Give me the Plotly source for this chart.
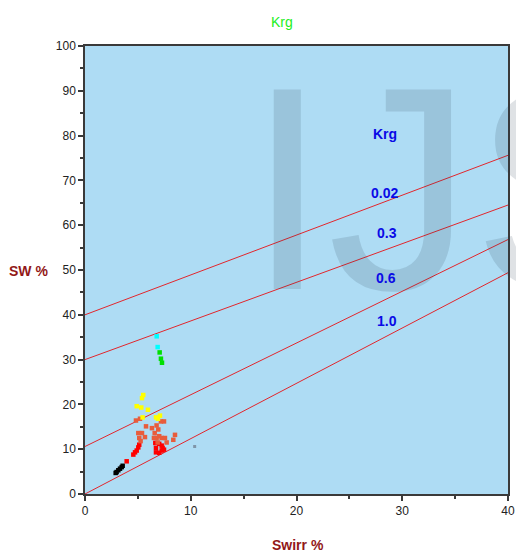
import plotly.graph_objects as go

# Krg iso-lines: Sw at Swirr = 0 and at Swirr = 40
krg_labels = ["0.02", "0.3", "0.6", "1.0"]
krg_sw_at_0 = [40.0, 30.0, 10.6, 0.0]
krg_sw_at_40 = [75.6, 64.5, 56.8, 49.4]
krg_label_x = [28.3, 28.6, 28.5, 28.6]
krg_label_y = [67.3, 58.2, 48.3, 38.7]

# Sample points grouped by colour class
cyan_x = [6.78, 6.87]
cyan_y = [35.2, 32.8]
green_x = [7.06, 7.18, 7.28]
green_y = [31.6, 30.2, 29.3]
yellow_x = [5.51, 5.39, 4.89, 5.32, 5.95, 5.45, 6.71, 7.09, 6.90]
yellow_y = [22.1, 21.4, 19.6, 19.3, 18.8, 17.1, 17.1, 17.5, 16.8]
orange_x = [4.82, 5.20, 5.77, 6.33, 6.77, 7.18, 7.47, 6.93, 5.04, 5.39, 5.67,
            5.13, 5.26, 6.59, 6.77, 6.52, 7.02, 7.25, 7.56, 7.72, 8.35, 8.51, 6.87]
orange_y = [16.4, 16.8, 15.1, 14.7, 15.3, 16.2, 16.2, 14.4, 13.6, 13.6, 12.7,
            12.5, 11.8, 13.6, 12.5, 12.5, 12.9, 12.5, 12.5, 11.5, 12.1, 13.2, 11.5]
red_x = [5.13, 5.04, 4.89, 4.73, 4.57, 3.94, 6.65, 6.71, 7.02, 7.25, 7.34,
         7.25, 7.02, 6.71, 7.47]
red_y = [11.0, 10.4, 9.7, 9.3, 8.8, 7.3, 11.4, 10.3, 11.2, 10.8, 10.3,
         9.7, 9.2, 9.3, 9.9]
black_x = [2.90, 2.99, 3.15, 3.31, 3.47, 3.56]
black_y = [4.7, 4.9, 5.3, 5.65, 6.0, 6.3]
grey_x = [10.37]
grey_y = [10.6]

FONT = "Liberation Sans, Arial, sans-serif"

fig = go.Figure()

for s0, s40 in zip(krg_sw_at_0, krg_sw_at_40):
    fig.add_trace(go.Scatter(x=[0, 40], y=[s0, s40], mode="lines",
                             line=dict(color="#e2262c", width=1),
                             hoverinfo="skip", showlegend=False))

groups = [
    (black_x, black_y, "#000000", 4.5),
    (red_x, red_y, "#ff0000", 4.5),
    (orange_x, orange_y, "#e85c3c", 4.5),
    (yellow_x, yellow_y, "#ffff00", 4.5),
    (green_x, green_y, "#00e000", 4.5),
    (cyan_x, cyan_y, "#00ffff", 4.5),
    (grey_x, grey_y, "#7f95a8", 3),
]
for gx, gy, col, sz in groups:
    fig.add_trace(go.Scatter(x=gx, y=gy, mode="markers",
                             marker=dict(symbol="square", size=sz, color=col,
                                         line=dict(width=0)),
                             showlegend=False))

# plot area in pixels: x 85..508, y 46..494
annotations = [
    # large faint watermark, anchored in data space so it never shifts margins
    dict(text="IJS", xref="x", yref="y", x=(245 - 85) / 10.575,
         y=(494 - 188) / 4.48, xanchor="left", yanchor="middle",
         showarrow=False,
         font=dict(family="Liberation Sans", size=290,
                   color="rgba(40,60,80,0.15)")),
    dict(text="<b>Krg</b>", x=28.4, y=80.3, showarrow=False,
         font=dict(family=FONT, size=14, color="#0a0ae6")),
    dict(text="<b>SW %</b>", xref="paper", yref="paper", x=(28 - 85) / 423,
         y=(494 - 271) / 448, xanchor="center", yanchor="middle",
         showarrow=False,
         font=dict(family=FONT, size=14, color="#921818")),
    dict(text="<b>Swirr %</b>", xref="paper", yref="paper", x=(298 - 85) / 423,
         y=(494 - 545) / 448, xanchor="center", yanchor="middle",
         showarrow=False,
         font=dict(family=FONT, size=14, color="#921818")),
    dict(text="Krg", xref="paper", yref="paper", x=(282 - 85) / 423,
         y=(494 - 22) / 448, xanchor="center", yanchor="middle",
         showarrow=False,
         font=dict(family=FONT, size=14, color="#22ee22")),
]
for lab, lx, ly in zip(krg_labels, krg_label_x, krg_label_y):
    annotations.append(dict(text="<b>" + lab + "</b>", x=lx, y=ly,
                            showarrow=False,
                            font=dict(family=FONT, size=14, color="#0a0ae6")))

axis_common = dict(
    showgrid=False, zeroline=False, showline=True, linecolor="#3a3a3a",
    linewidth=1.5, mirror=True, ticks="outside", ticklen=5, tickwidth=1.5,
    tickcolor="#3a3a3a",
    tickfont=dict(family=FONT, size=12, color="#222222"),
)

fig.update_layout(
    width=516, height=556,
    margin=dict(l=85, r=8, t=46, b=62, autoexpand=False),
    paper_bgcolor="white",
    plot_bgcolor="#aedcf4",
    annotations=annotations,
    xaxis=dict(range=[0, 40], dtick=10, tick0=0,
               minor=dict(dtick=5, ticks="outside", ticklen=3,
                          tickcolor="#3a3a3a", tickwidth=1.5),
               **axis_common),
    yaxis=dict(range=[0, 100], dtick=10, tick0=0,
               minor=dict(dtick=5, ticks="outside", ticklen=3,
                          tickcolor="#3a3a3a", tickwidth=1.5),
               **axis_common),
)

fig.write_html("out.html")
